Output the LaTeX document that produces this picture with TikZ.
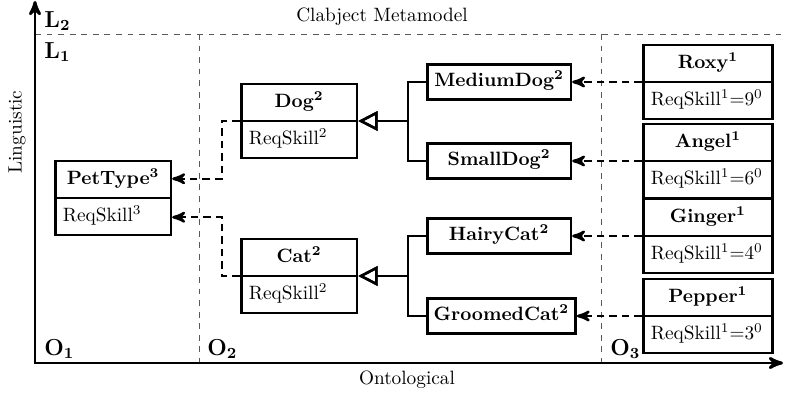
\documentclass[tikz,border=0pt]{standalone}
\usepackage{amsmath}
\usepackage{amssymb}
\usepackage{tikz}
\usetikzlibrary{arrows, arrows.meta, shapes}
\usetikzlibrary{calc}

% clabject name with its potency
\newcommand{\clabname}[2]{\strut\textbf{#1}$^{\mathbf{#2}}$}

\begin{document}
\begin{tikzpicture}[
	x = 0.5185pt, y = -0.5185pt,
	axis/.style={line width=1.5pt, ->, >=stealth', line join=miter},
	level/.style={black!65, dashed},
	levelname/.style={anchor=west, inner sep=0pt, font=\large},
	clabject/.style={draw, line width=1.3pt, rectangle split, rectangle split parts=2,
		rectangle split part align={center,left}, inner ysep=3pt, inner xsep=4pt,
		minimum width=60pt},
	subclass/.style={draw, line width=1.3pt, inner ysep=3pt, minimum width=74.5pt},
	instance/.style={clabject, minimum width=67pt},
	instof/.style={line width=1.3pt, dash pattern=on 4pt off 2.5pt, ->, >=stealth'},
	inherit/.style={line width=1.3pt, -{Triangle[open, length=10pt, width=10pt]}},
	]
	\useasboundingbox (0,0) rectangle (785,394);

	% levels and axes
	\draw[level] (35,34) -- (785,34);
	\draw[level] (199,34) -- (199,363);
	\draw[level] (601,34) -- (601,363);
	\draw[axis,<->] (783,363) -| (35,1);
	\node (meta) at (382,17) {Clabject Metamodel};
	\node (ling) [rotate=90] at (17,132) {Linguistic};
	\node (onto) at (407,380) {Ontological};
	\node (L2) [levelname] at (44,21) {$\mathbf{L_2}$};
	\node (L1) [levelname] at (44,52) {$\mathbf{L_1}$};
	\node (O1) [levelname] at (44,349) {$\mathbf{O_1}$};
	\node (O2) [levelname] at (207,349) {$\mathbf{O_2}$};
	\node (O3) [levelname] at (610,349) {$\mathbf{O_3}$};

	% O1
	\node (pettype) [clabject, anchor=text split west] at (54,198)
		{\clabname{PetType}{3} \nodepart{two}\strut ReqSkill$^3$};

	% O2
	\node (dog) [clabject, anchor=text split west] at (240,121)
		{\clabname{Dog}{2} \nodepart{two}\strut ReqSkill$^2$};
	\node (cat) [clabject, anchor=text split west] at (240,276)
		{\clabname{Cat}{2} \nodepart{two}\strut ReqSkill$^2$};
	\node (mediumdog) [subclass, anchor=west] at (426,82) {\clabname{MediumDog}{2}};
	\node (smalldog) [subclass, anchor=west] at (426,161) {\clabname{SmallDog}{2}};
	\node (hairycat) [subclass, anchor=west] at (426,236) {\clabname{HairyCat}{2}};
	\node (groomedcat) [subclass, anchor=west] at (426,316) {\clabname{GroomedCat}{2}};

	% O3
	\node (roxy) [instance, anchor=text split west] at (642,82)
		{\clabname{Roxy}{1} \nodepart{two}\strut ReqSkill$^1$=9$^0$};
	\node (angel) [instance, anchor=text split west] at (642,161)
		{\clabname{Angel}{1} \nodepart{two}\strut ReqSkill$^1$=6$^0$};
	\node (ginger) [instance, anchor=text split west] at (642,236)
		{\clabname{Ginger}{1} \nodepart{two}\strut ReqSkill$^1$=4$^0$};
	\node (pepper) [instance, anchor=text split west] at (642,316)
		{\clabname{Pepper}{1} \nodepart{two}\strut ReqSkill$^1$=3$^0$};

	% generalisation
	\draw[inherit] (mediumdog.west) -- ++(-18,0) |- (dog.text split east);
	\draw[inherit] (smalldog.west) -- ++(-18,0) |- (dog.text split east);
	\draw[inherit] (hairycat.west) -- ++(-18,0) |- (cat.text split east);
	\draw[inherit] (groomedcat.west) -- ++(-18,0) |- (cat.text split east);

	% instance-of
	\draw[instof] (roxy.text split west) -- (mediumdog.east);
	\draw[instof] (angel.text split west) -- (smalldog.east);
	\draw[instof] (ginger.text split west) -- (hairycat.east);
	\draw[instof] (pepper.text split west) -- (groomedcat.east);
	\draw[instof] (dog.text split west) -- ++(-18,0)
		|- ($(pettype.north east)!.25!(pettype.south east)$);
	\draw[instof] (cat.text split west) -- ++(-18,0)
		|- ($(pettype.north east)!.75!(pettype.south east)$);
\end{tikzpicture}
\end{document}
